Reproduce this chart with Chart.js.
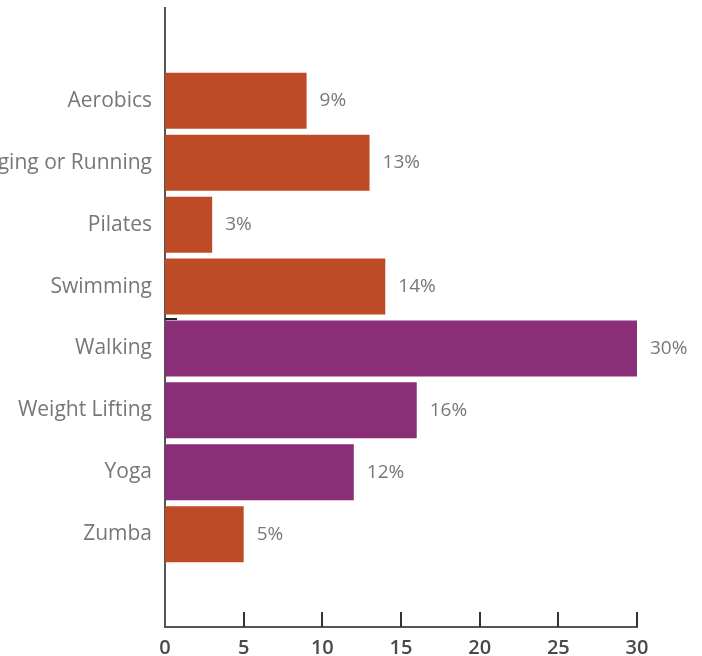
<!DOCTYPE html>
<html>
<head>
<meta charset="utf-8">
<script src="https://cdn.jsdelivr.net/npm/chart.js@4"></script>
<style>
  html, body { margin: 0; padding: 0; background: #fff; }
  #wrap { width: 702px; height: 656px; }
</style>
</head>
<body>
<div id="wrap"><canvas id="chart" width="702" height="656"></canvas></div>
<script>
// categories and values (percent)
const categories = ['Aerobics', 'Jogging or Running', 'Pilates', 'Swimming', 'Walking', 'Weight Lifting', 'Yoga', 'Zumba'];
const values = [9, 13, 3, 14, 30, 16, 12, 5];
const highlighted = [false, false, false, false, true, true, true, false];
const xTicks = [0, 5, 10, 15, 20, 25, 30];

const ORANGE = '#bd4b26';
const PURPLE = '#8a2e78';

const points = values.map((v, i) => ({ x: v, y: i }));
const colors = highlighted.map(h => h ? PURPLE : ORANGE);

// value labels at the end of each bar
const valueLabels = {
    id: 'valueLabels',
    afterDatasetsDraw(chart) {
        const ctx = chart.ctx;
        const meta = chart.getDatasetMeta(0);
        ctx.save();
        ctx.font = '19px "Open Sans"';
        ctx.fillStyle = '#777';
        ctx.textAlign = 'left';
        ctx.textBaseline = 'middle';
        meta.data.forEach((bar, i) => {
            ctx.fillText(values[i] + '%', bar.x + 13, bar.y);
        });
        ctx.restore();
    }
};

// short inward tick marks on the x axis
const innerTicks = {
    id: 'innerTicks',
    afterDraw(chart) {
        const ctx = chart.ctx;
        const xs = chart.scales.x;
        const ys = chart.scales.y;
        const bottom = chart.chartArea.bottom;
        ctx.save();
        ctx.strokeStyle = '#333';
        ctx.lineWidth = 2;
        xTicks.slice(1).forEach(t => {
            const px = Math.round(xs.getPixelForValue(t));
            ctx.beginPath();
            ctx.moveTo(px, bottom - 15);
            ctx.lineTo(px, bottom);
            ctx.stroke();
        });
        // the one stray y tick visible between Swimming and Walking
        const py = Math.round(ys.getPixelForValue(3.5)) + 1;
        ctx.strokeStyle = '#222';
        ctx.beginPath();
        ctx.moveTo(chart.chartArea.left, py);
        ctx.lineTo(chart.chartArea.left + 12, py);
        ctx.stroke();
        ctx.restore();
    }
};

new Chart(document.getElementById('chart').getContext('2d'), {
    type: 'bar',
    data: {
        datasets: [{
            data: points,
            backgroundColor: colors,
            borderWidth: 0,
            categoryPercentage: 1,
            barPercentage: 0.905
        }]
    },
    options: {
        indexAxis: 'y',
        responsive: false,
        animation: false,
        layout: { padding: { top: 8, right: 65, left: 0, bottom: 0 } },
        plugins: {
            legend: { display: false },
            tooltip: { enabled: false }
        },
        scales: {
            x: {
                type: 'linear',
                min: 0,
                max: 30,
                afterBuildTicks: s => { s.ticks = xTicks.map(v => ({ value: v })); },
                afterFit: s => { s.height = 29; s.paddingLeft = 0; s.paddingRight = 0; },
                grid: { display: false, drawTicks: false },
                border: { display: true, color: '#555', width: 2 },
                ticks: {
                    padding: 9,
                    color: '#4a4a4a',
                    font: { family: 'Open Sans', size: 20, weight: '600' }
                }
            },
            y: {
                type: 'linear',
                reverse: true,
                offset: false,
                min: -1.5,
                max: 8.5,
                afterBuildTicks: s => { s.ticks = categories.map((c, i) => ({ value: i })); },
                afterFit: s => { s.width = 165; s.paddingTop = 0; s.paddingBottom = 0; },
                grid: { display: false, drawTicks: false, offset: false },
                border: { display: true, color: '#555', width: 2 },
                ticks: {
                    padding: 13,
                    color: '#777',
                    font: { family: 'Open Sans', size: 21 },
                    callback: v => categories[v]
                }
            }
        }
    },
    plugins: [valueLabels, innerTicks]
});
</script>
</body>
</html>
